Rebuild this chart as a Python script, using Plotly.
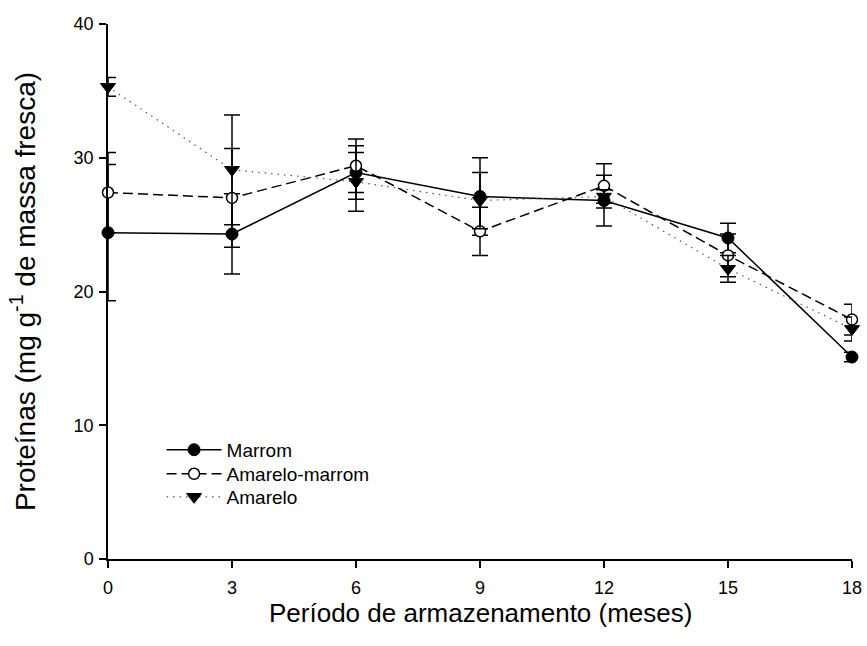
import plotly.graph_objects as go

# Storage period (months)
meses = [0, 3, 6, 9, 12, 15, 18]

# Protein content (mg g-1 fresh mass) and standard errors per seed colour
marrom = [24.4, 24.3, 28.9, 27.1, 26.8, 24.0, 15.1]
marrom_err = [5.1, 3.0, 2.0, 2.9, 1.9, 1.1, 0.35]

amarelo_marrom = [27.4, 27.0, 29.4, 24.5, 27.9, 22.7, 17.9]
amarelo_marrom_err = [3.0, 3.7, 2.0, 1.8, 1.65, 1.6, 1.15]

amarelo = [35.3, 29.1, 28.2, 26.8, 27.1, 21.7, 17.2]
amarelo_err = [0.7, 4.1, 2.2, 2.1, 0.5, 1.0, 0.9]

x_ticks = [0, 3, 6, 9, 12, 15, 18]
y_ticks = [0, 10, 20, 30, 40]

FONT = "Liberation Sans, Arial, sans-serif"


def err(values):
    return dict(type="data", array=values, visible=True, color="black",
                thickness=1.5, width=8)


def legend_box(y):
    # one legend per series so each row can be placed on its own
    return dict(
        x=0.072, y=y, xanchor="left", yanchor="middle",
        bgcolor="rgba(0,0,0,0)", borderwidth=0, itemwidth=55,
        font=dict(family=FONT, size=19, color="black"),
    )


fig = go.Figure()

fig.add_trace(go.Scatter(
    x=meses, y=marrom, name="Marrom", mode="lines+markers",
    line=dict(color="black", width=1.5),
    marker=dict(symbol="circle", size=12, color="black",
                line=dict(color="black", width=1)),
    error_y=err(marrom_err), cliponaxis=False, legend="legend",
))

fig.add_trace(go.Scatter(
    x=meses, y=amarelo_marrom, name="Amarelo-marrom", mode="lines+markers",
    line=dict(color="black", width=1.5, dash="10px,5px"),
    marker=dict(symbol="circle", size=11, color="white",
                line=dict(color="black", width=1.5)),
    error_y=err(amarelo_marrom_err), cliponaxis=False, legend="legend2",
))

fig.add_trace(go.Scatter(
    x=meses, y=amarelo, name="Amarelo", mode="lines+markers",
    line=dict(color="#555555", width=1.2, dash="1.5px,5px"),
    marker=dict(symbol="triangle-down", size=13, color="black",
                line=dict(color="black", width=1)),
    error_y=err(amarelo_err), cliponaxis=False, legend="legend3",
))

fig.update_layout(
    width=867, height=646,
    margin=dict(l=108, r=15, t=24, b=87),
    paper_bgcolor="white", plot_bgcolor="white",
    font=dict(family=FONT, size=18, color="black"),
    showlegend=True,
    legend=legend_box(0.204),
    legend2=legend_box(0.159),
    legend3=legend_box(0.116),
    xaxis=dict(
        range=[0, 18], tickvals=x_ticks, ticktext=[str(v) for v in x_ticks],
        showline=True, linecolor="black", linewidth=1.5,
        ticks="outside", ticklen=7, tickwidth=1.5, tickcolor="black",
        showgrid=False, zeroline=False, automargin=False,
        tickfont=dict(family=FONT, size=18), ticklabelstandoff=5,
    ),
    yaxis=dict(
        range=[0, 40], tickvals=y_ticks, ticktext=[str(v) for v in y_ticks],
        showline=True, linecolor="black", linewidth=1.5,
        ticks="outside", ticklen=7, tickwidth=1.5, tickcolor="black",
        showgrid=False, zeroline=False, automargin=False,
        tickfont=dict(family=FONT, size=18), ticklabelstandoff=2,
        title=dict(text="Proteínas (mg g<sup>-1</sup> de massa fresca)",
                   font=dict(family=FONT, size=28), standoff=30),
    ),
    annotations=[dict(
        text="Período de armazenamento (meses)",
        xref="paper", yref="paper", x=0.5, y=0,
        xanchor="center", yanchor="middle", yshift=-54,
        showarrow=False, font=dict(family=FONT, size=26, color="black"),
    )],
)

fig.write_html("out.html")
